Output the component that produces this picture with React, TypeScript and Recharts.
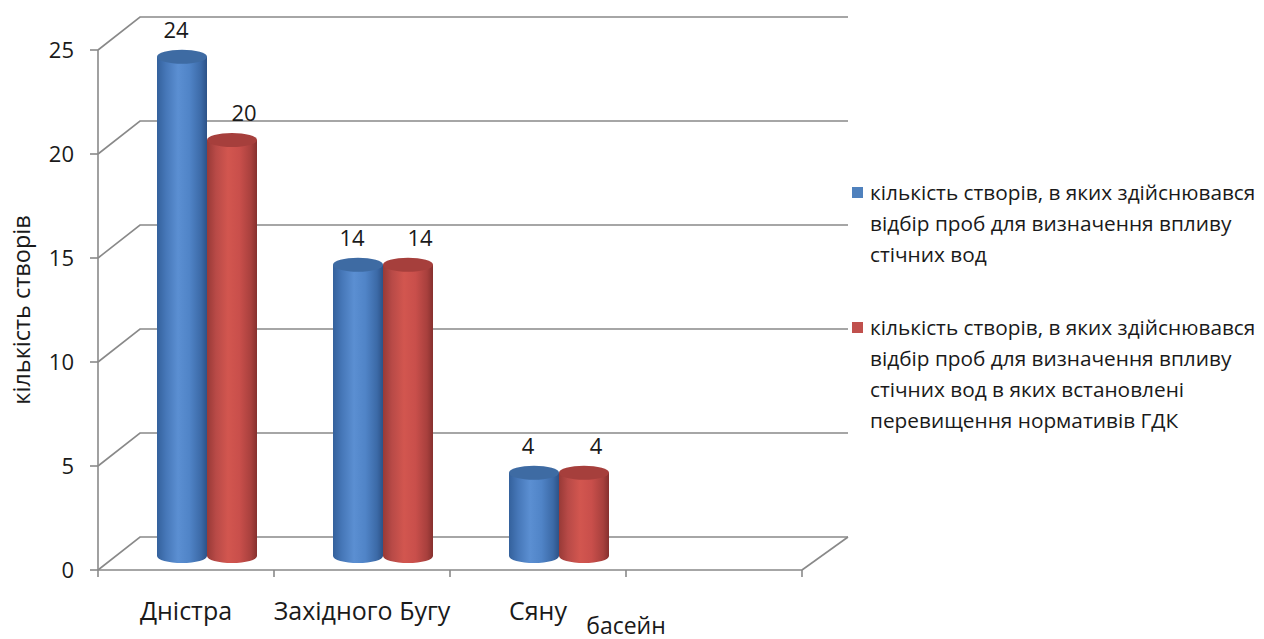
import React from 'react';
import { BarChart, Bar, XAxis, YAxis, CartesianGrid, Legend, LabelList } from 'recharts';

// Basins (categories); the last slot is an empty category kept for spacing
const basins = ['Дністра', 'Західного Бугу', 'Сяну', ''];
const sampledSites = [24, 14, 4, null];
const exceedingSites = [20, 14, 4, null];
const yTicks = [0, 5, 10, 15, 20, 25];

const yAxisTitle = 'кількість створів';
const xAxisTitle = 'басейн';

const sampledName =
  'кількість створів, в яких здійснювався відбір проб для визначення впливу стічних вод';
const exceedingName =
  'кількість створів, в яких здійснювався відбір проб для визначення впливу стічних вод в яких встановлені перевищення нормативів ГДК';

// Legend text split into the lines it is shown on
const sampledLegendLines = [
  'кількість створів, в яких здійснювався',
  'відбір проб для визначення впливу',
  'стічних вод',
];
const exceedingLegendLines = [
  'кількість створів, в яких здійснювався',
  'відбір проб для визначення впливу',
  'стічних вод в яких встановлені',
  'перевищення нормативів ГДК',
];

const data = basins.map((basin, i) => ({
  basin,
  sampled: sampledSites[i],
  exceeding: exceedingSites[i],
}));

const FONT = '"Open Sans", "Noto Sans", sans-serif';
const GRID = '#898989';
const TEXT = '#1a1a1a';

// 3D depth: offset of the back wall and of the bar centres
const WALL_DX = 42;
const WALL_DY = -33;
const WALL_DX_RIGHT = 46;
const BAR_DX = 21;
const BAR_DY = -14;

const LEGEND_WIDTH = 404;

const palettes = {
  blue: {
    stops: [
      ['0%', '#34619c'],
      ['18%', '#4677b8'],
      ['42%', '#5b8fd2'],
      ['65%', '#5084c7'],
      ['88%', '#3c6aa7'],
      ['100%', '#2d5287'],
    ],
    top: '#3e6ba3',
    base: '#4F81BD',
  },
  red: {
    stops: [
      ['0%', '#983a37'],
      ['18%', '#b84a47'],
      ['42%', '#d2564f'],
      ['65%', '#c94f4b'],
      ['88%', '#a8403d'],
      ['100%', '#86302e'],
    ],
    top: '#a63f3c',
    base: '#C0504D',
  },
};

function Cylinder(props: any) {
  const { x, y, width, height, index, kind } = props;
  if (height == null || !isFinite(height) || height <= 0) return null;
  const pal = (palettes as any)[kind];
  const left = x + BAR_DX;
  const top = y + BAR_DY;
  const bottom = y + height + BAR_DY;
  const rx = width / 2;
  const ry = 7;
  const id = `cyl-${kind}-${index}`;
  const body = `M${left},${top} L${left},${bottom} A${rx},${ry} 0 0 0 ${left + width},${bottom} L${left + width},${top} Z`;
  return (
    <g>
      <defs>
        <linearGradient id={id} x1="0" y1="0" x2="1" y2="0">
          {pal.stops.map(([o, c]: string[]) => (
            <stop key={o} offset={o} stopColor={c} />
          ))}
        </linearGradient>
      </defs>
      <path d={body} fill={`url(#${id})`} />
      <ellipse cx={left + rx} cy={top} rx={rx} ry={ry} fill={pal.top} />
    </g>
  );
}

function makeValueLabel(shift: number) {
  return (props: any) => {
    const { x, y, width, value } = props;
    if (value == null) return null;
    return (
      <text
        x={x + width / 2 + BAR_DX + shift}
        y={y - 42}
        textAnchor="middle"
        dominantBaseline="central"
        fontFamily={FONT}
        fontSize={22}
        fill={TEXT}
      >
        {value}
      </text>
    );
  };
}

// Horizontal gridlines drawn on the left wall and back wall
function WallLine(props: any) {
  const { x1, x2, y1, y, height, index } = props;
  const backY = y1 + WALL_DY;
  const isFloor = Math.abs(y1 - (y + height)) < 1;
  return (
    <g key={`wall-${index}`}>
      <polyline
        points={`${x1},${y1} ${x1 + WALL_DX},${backY} ${x2 + WALL_DX_RIGHT},${backY}`}
        fill="none"
        stroke={GRID}
        strokeWidth={1.6}
      />
      {isFloor && (
        <line x1={x2} y1={y1} x2={x2 + WALL_DX_RIGHT} y2={backY} stroke={GRID} strokeWidth={1.6} />
      )}
    </g>
  );
}

function CategoryTick(props: any) {
  const { x, y, payload, index } = props;
  const half = payload && payload.offset ? payload.offset : 88;
  const last = index === basins.length - 1;
  return (
    <g>
      <line x1={x - half} y1={y} x2={x - half} y2={y + 7} stroke={GRID} strokeWidth={1.6} />
      {last && <line x1={x + half} y1={y} x2={x + half} y2={y + 7} stroke={GRID} strokeWidth={1.6} />}
      <text
        x={x}
        y={y + 40}
        textAnchor="middle"
        dominantBaseline="central"
        fontFamily={FONT}
        fontSize={25}
        fill={TEXT}
      >
        {payload.value}
      </text>
    </g>
  );
}

function LegendBlock() {
  const entries = [
    { color: palettes.blue.base, lines: sampledLegendLines, name: sampledName },
    { color: palettes.red.base, lines: exceedingLegendLines, name: exceedingName },
  ];
  return (
    <div style={{ fontFamily: FONT, fontSize: 20.8, color: TEXT }}>
      {entries.map((e, i) => (
        <div key={i} title={e.name} style={{ display: 'flex', marginBottom: i === 0 ? 42 : 0 }}>
          <div
            style={{ width: 11, height: 11, background: e.color, marginTop: 10, marginRight: 7, flex: 'none' }}
          />
          <div style={{ lineHeight: '31px', whiteSpace: 'nowrap' }}>
            {e.lines.map((l, j) => (
              <div key={j}>{l}</div>
            ))}
          </div>
        </div>
      ))}
    </div>
  );
}

export default function App() {
  return (
    <BarChart
      width={1248}
      height={631}
      data={data}
      margin={{ top: 42, right: 454 - LEGEND_WIDTH, left: 0, bottom: 0 }}
      barCategoryGap={38}
      barGap={0}
      style={{ fontFamily: FONT }}
    >
      <CartesianGrid vertical={false} horizontal={WallLine} />
      <XAxis
        dataKey="basin"
        height={69}
        axisLine={{ stroke: GRID, strokeWidth: 1.6 }}
        tickLine={false}
        tickSize={0}
        tickMargin={0}
        interval={0}
        tick={CategoryTick}
        label={(p: any) => {
          const vb = p.viewBox || { x: 90, y: 562, width: 704 };
          return (
            <text
              x={vb.x + (vb.width * 3) / 4}
              y={vb.y + 55}
              textAnchor="middle"
              dominantBaseline="central"
              fontFamily={FONT}
              fontSize={23}
              fill={TEXT}
            >
              {xAxisTitle}
            </text>
          );
        }}
      />
      <YAxis
        width={90}
        domain={[0, 25]}
        ticks={yTicks}
        interval={0}
        axisLine={{ stroke: GRID, strokeWidth: 1.6 }}
        tickLine={{ stroke: GRID, strokeWidth: 1.6 }}
        tickSize={8}
        tickMargin={16}
        tick={{ fontFamily: FONT, fontSize: 22, fill: TEXT }}
        label={(p: any) => {
          const vb = p.viewBox || { x: 0, y: 42, height: 520 };
          return (
            <text
              x={13}
              y={vb.y + vb.height / 2}
              transform={`rotate(-90, 13, ${vb.y + vb.height / 2})`}
              textAnchor="middle"
              dominantBaseline="central"
              fontFamily={FONT}
              fontSize={23.5}
              fill={TEXT}
            >
              {yAxisTitle}
            </text>
          );
        }}
      />
      <Legend
        layout="vertical"
        align="right"
        verticalAlign="top"
        content={() => <LegendBlock />}
        wrapperStyle={{ left: 844, right: 'auto', top: 169, width: LEGEND_WIDTH }}
      />
      <Bar
        dataKey="sampled"
        name={sampledName}
        fill={palettes.blue.base}
        isAnimationActive={false}
        shape={(p: any) => <Cylinder {...p} kind="blue" />}
      >
        <LabelList dataKey="sampled" content={makeValueLabel(-6)} />
      </Bar>
      <Bar
        dataKey="exceeding"
        name={exceedingName}
        fill={palettes.red.base}
        isAnimationActive={false}
        shape={(p: any) => <Cylinder {...p} kind="red" />}
      >
        <LabelList dataKey="exceeding" content={makeValueLabel(12)} />
      </Bar>
    </BarChart>
  );
}
